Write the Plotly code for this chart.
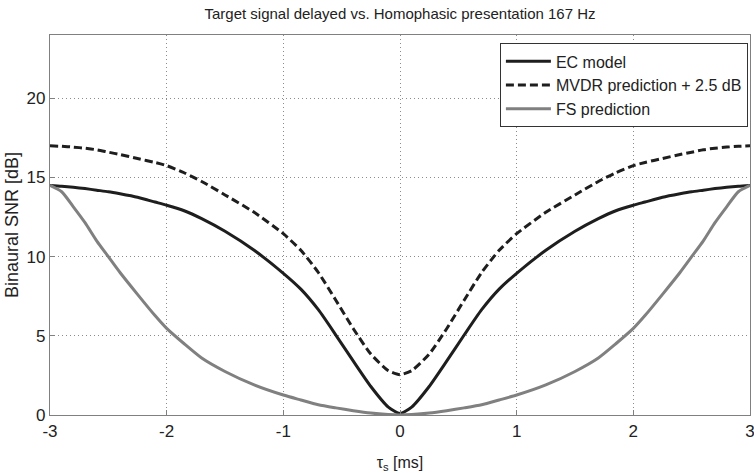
import plotly.graph_objects as go

# ---- data ----
tau_ms = [-3, -2.9, -2.8, -2.7, -2.6, -2.5, -2.4, -2.25, -2.1, -2, -1.85, -1.7, -1.5, -1.25, -1,
          -0.85, -0.7, -0.55, -0.4, -0.25, -0.1, 0,
          0.1, 0.25, 0.4, 0.55, 0.7, 0.85, 1, 1.25, 1.5, 1.7, 1.85, 2, 2.1, 2.25, 2.4, 2.5,
          2.6, 2.7, 2.8, 2.9, 3]

ec_model = [14.5, 14.45, 14.38, 14.3, 14.2, 14.1, 13.97, 13.75, 13.45, 13.25, 12.9, 12.4, 11.6, 10.4, 8.95,
            7.95, 6.65, 5.05, 3.4, 1.8, 0.5, 0.1,
            0.5, 1.8, 3.4, 5.05, 6.65, 7.95, 8.95, 10.4, 11.6, 12.4, 12.9, 13.25, 13.45, 13.75, 13.97, 14.1,
            14.2, 14.3, 14.38, 14.45, 14.5]

mvdr_plus = [17.0, 16.97, 16.92, 16.85, 16.75, 16.6, 16.45, 16.2, 15.95, 15.75, 15.3, 14.75, 13.9, 12.8, 11.45,
             10.4, 9.0, 7.25, 5.45, 3.85, 2.8, 2.55,
             2.8, 3.85, 5.45, 7.25, 9.0, 10.4, 11.45, 12.8, 13.9, 14.75, 15.3, 15.75, 15.95, 16.2, 16.45, 16.6,
             16.75, 16.85, 16.92, 16.97, 17.0]

fs_pred = [14.5, 14.1, 13.15, 12.15, 11.0, 10.0, 9.0, 7.62, 6.28, 5.47, 4.5, 3.6, 2.75, 1.9, 1.26,
           0.95, 0.65, 0.45, 0.27, 0.12, 0.03, 0.0,
           0.03, 0.12, 0.27, 0.45, 0.65, 0.95, 1.26, 1.9, 2.75, 3.6, 4.5, 5.47, 6.28, 7.62, 9.0, 10.0,
           11.0, 12.15, 13.15, 14.1, 14.5]

x_ticks = [-3, -2, -1, 0, 1, 2, 3]
y_ticks = [0, 5, 10, 15, 20]

FONT = "Liberation Sans, Arial, sans-serif"

fig = go.Figure()
fig.add_trace(go.Scatter(x=tau_ms, y=ec_model, name="EC model", mode="lines",
                         line=dict(color="#1e1e1e", width=3, shape="spline", smoothing=0.6)))
fig.add_trace(go.Scatter(x=tau_ms, y=mvdr_plus, name="MVDR prediction + 2.5 dB", mode="lines",
                         line=dict(color="#1e1e1e", width=3, dash="8px,4px", shape="spline", smoothing=0.6)))
fig.add_trace(go.Scatter(x=tau_ms, y=fs_pred, name="FS prediction", mode="lines",
                         line=dict(color="#808080", width=3, shape="spline", smoothing=0.6)))

axis_common = dict(
    showline=True, linecolor="#808080", linewidth=1.3, mirror=True,
    ticks="inside", ticklen=5, tickcolor="#808080",
    showgrid=True, gridcolor="#8c8c8c", griddash="1px,3px", gridwidth=1,
    zeroline=False, ticklabeloverflow="allow",
    tickfont=dict(family=FONT, size=17, color="#222222"),
)

fig.update_xaxes(range=[-3.0001, 3.0001], tickvals=x_ticks, ticktext=[str(v) for v in x_ticks],
                 title=dict(text="τ<sub>s</sub> [ms]", font=dict(family=FONT, size=16, color="#222222"),
                            standoff=18),
                 **axis_common)
fig.update_yaxes(range=[0, 24], tickvals=y_ticks, ticktext=[str(v) for v in y_ticks],
                 title=dict(text="Binaural SNR [dB]", font=dict(family=FONT, size=18, color="#222222"),
                            standoff=3),
                 **axis_common)

fig.update_layout(
    width=754, height=473,
    margin=dict(l=50, r=4, t=35, b=58, autoexpand=False),
    paper_bgcolor="white", plot_bgcolor="white",
    title=dict(text="Target signal delayed vs. Homophasic presentation 167 Hz",
               x=0.5, xref="paper", xanchor="center", y=1 - 14 / 473, yanchor="middle", yref="container",
               font=dict(family=FONT, size=15, color="#222222")),
    legend=dict(x=0.997, xanchor="right", y=0.978, yanchor="top",
                bgcolor="white", bordercolor="#333333", borderwidth=1,
                font=dict(family=FONT, size=16, color="#222222"),
                itemwidth=45, tracegroupgap=0),
    showlegend=True,
)

# remove the browser's default 8px body margin so the 754x473 figure fills the window
fig.write_html("out.html",
               config={"displayModeBar": False},
               post_script="document.body.style.margin='0';document.body.style.overflow='hidden';")
